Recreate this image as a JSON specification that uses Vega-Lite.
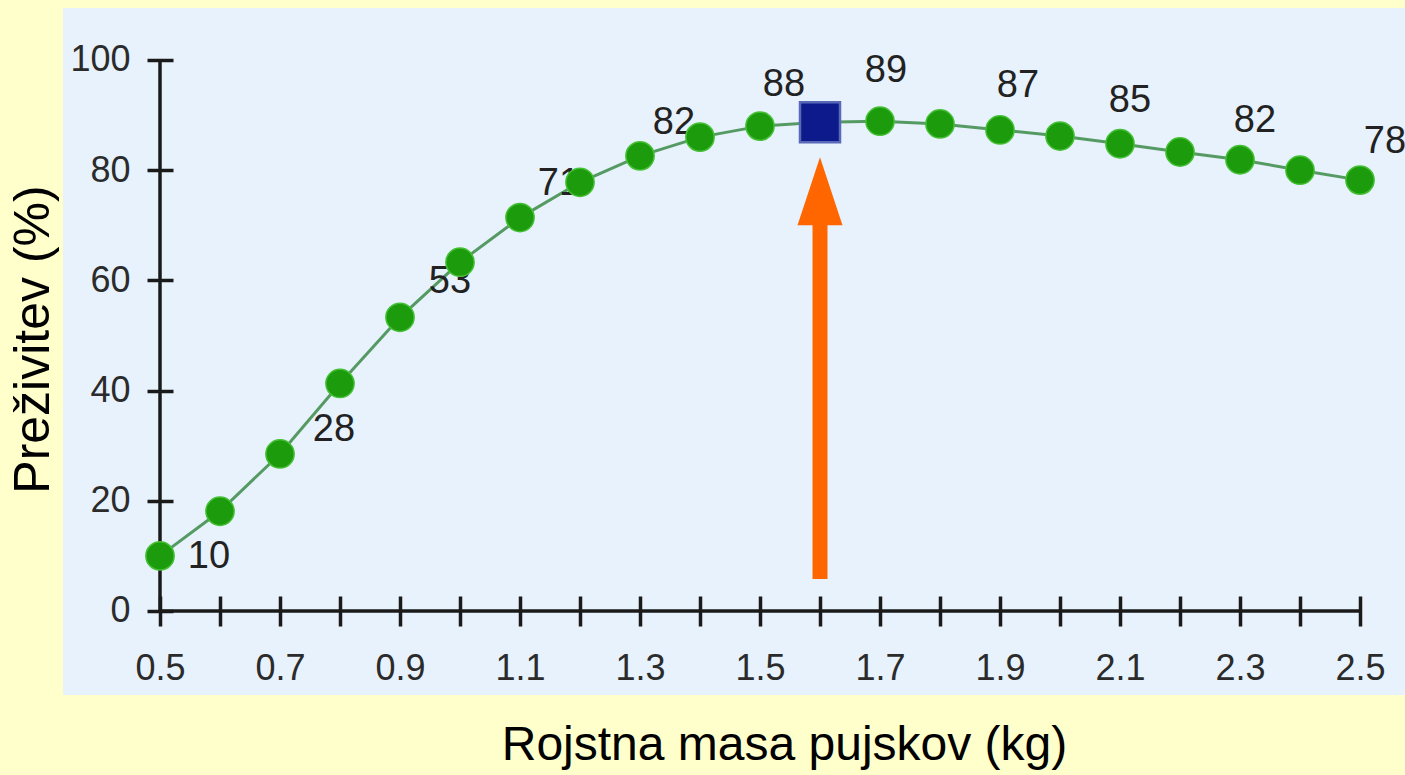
{
  "$schema": "https://vega.github.io/schema/vega-lite/v6.json",
  "width": 1342,
  "height": 687,
  "autosize": {"type": "none"},
  "padding": {"left": 63, "top": 8, "right": 0, "bottom": 80},
  "background": "#FFFFCC",
  "config": {
    "view": {"fill": "#E7F2FC", "stroke": null},
    "font": "Liberation Sans",
    "text": {"font": "Liberation Sans", "fontSize": 38, "fill": "#222222", "align": "center", "baseline": "middle"}
  },
  "data": {
    "values": [
      {"x": 0.5, "y": 10.0, "label": "10"},
      {"x": 0.6, "y": 18.1},
      {"x": 0.7, "y": 28.5, "label": "28"},
      {"x": 0.8, "y": 41.3},
      {"x": 0.9, "y": 53.3, "label": "53"},
      {"x": 1.0, "y": 63.3},
      {"x": 1.1, "y": 71.4, "label": "71"},
      {"x": 1.2, "y": 77.8},
      {"x": 1.3, "y": 82.6, "label": "82"},
      {"x": 1.4, "y": 86.0},
      {"x": 1.5, "y": 88.0, "label": "88"},
      {"x": 1.6, "y": 88.7},
      {"x": 1.7, "y": 88.9, "label": "89"},
      {"x": 1.8, "y": 88.4},
      {"x": 1.9, "y": 87.3, "label": "87"},
      {"x": 2.0, "y": 86.2},
      {"x": 2.1, "y": 84.8, "label": "85"},
      {"x": 2.2, "y": 83.3},
      {"x": 2.3, "y": 81.9, "label": "82"},
      {"x": 2.4, "y": 80.0},
      {"x": 2.5, "y": 78.2, "label": "78"}
    ]
  },
  "layer": [
    {
      "mark": {"type": "line", "color": "#559a63", "strokeWidth": 3},
      "encoding": {
        "x": {
          "field": "x",
          "type": "quantitative",
          "scale": {"domain": [0.33833, 2.575], "nice": false, "zero": false},
          "axis": {
            "title": "Rojstna masa pujskov (kg)",
            "values": [0.5, 0.6, 0.7, 0.8, 0.9, 1.0, 1.1, 1.2, 1.3, 1.4, 1.5, 1.6, 1.7, 1.8, 1.9, 2.0, 2.1, 2.2, 2.3, 2.4, 2.5],
            "labelExpr": "round(datum.value * 10) % 2 == 1 ? format(datum.value, '.1f') : ''",
            "domain": false,
            "grid": false,
            "offset": -99,
            "tickSize": 30,
            "tickWidth": 3.5,
            "tickColor": "#1a1a1a",
            "labelFont": "Liberation Sans",
            "labelFontSize": 36,
            "labelColor": "#2b2b2b",
            "labelPadding": 42,
            "labelBaseline": "middle",
            "labelFlush": false,
            "labelOverlap": false,
            "titleFont": "Liberation Sans",
            "titleFontSize": 48,
            "titleFontWeight": "normal",
            "titleColor": "#000000",
            "titleX": 721,
            "titleY": 149,
            "titleAlign": "center",
            "titleBaseline": "middle"
          }
        },
        "y": {
          "field": "y",
          "type": "quantitative",
          "scale": {"domain": [-15.245, 109.437], "nice": false, "zero": false},
          "axis": {
            "title": "Preživitev (%)",
            "values": [0, 20, 40, 60, 80, 100],
            "domain": false,
            "grid": false,
            "offset": -110,
            "tickSize": 26,
            "tickWidth": 3.5,
            "tickColor": "#1a1a1a",
            "labelFont": "Liberation Sans",
            "labelFontSize": 36,
            "labelColor": "#2b2b2b",
            "labelPadding": 17,
            "labelFlush": false,
            "labelOverlap": false,
            "titleFont": "Liberation Sans",
            "titleFontSize": 50,
            "titleFontWeight": "normal",
            "titleColor": "#000000",
            "titleX": -140,
            "titleY": 331,
            "titleAlign": "center",
            "titleBaseline": "middle"
          }
        }
      }
    },
    {
      "transform": [{"filter": "datum.x == 0.5"}],
      "mark": {"type": "rule", "color": "#1a1a1a", "strokeWidth": 3.5},
      "encoding": {
        "x": {"field": "x", "type": "quantitative"},
        "y": {"datum": 0, "type": "quantitative"},
        "y2": {"datum": 100}
      }
    },
    {
      "transform": [{"filter": "datum.x == 0.5"}],
      "mark": {"type": "rule", "color": "#1a1a1a", "strokeWidth": 3.5},
      "encoding": {
        "x": {"field": "x", "type": "quantitative"},
        "x2": {"datum": 2.5},
        "y": {"datum": 0, "type": "quantitative"}
      }
    },
    {"transform": [{"filter": "datum.x == 0.5"}], "mark": {"type": "text", "dx": 49, "dy": 1}, "encoding": {"x": {"field": "x", "type": "quantitative"}, "y": {"field": "y", "type": "quantitative"}, "text": {"field": "label"}}},
    {"transform": [{"filter": "datum.x == 0.7"}], "mark": {"type": "text", "dx": 54, "dy": -24}, "encoding": {"x": {"field": "x", "type": "quantitative"}, "y": {"field": "y", "type": "quantitative"}, "text": {"field": "label"}}},
    {"transform": [{"filter": "datum.x == 0.9"}], "mark": {"type": "text", "dx": 50, "dy": -35}, "encoding": {"x": {"field": "x", "type": "quantitative"}, "y": {"field": "y", "type": "quantitative"}, "text": {"field": "label"}}},
    {"transform": [{"filter": "datum.x == 1.1"}], "mark": {"type": "text", "dx": 39, "dy": -34}, "encoding": {"x": {"field": "x", "type": "quantitative"}, "y": {"field": "y", "type": "quantitative"}, "text": {"field": "label"}}},
    {"transform": [{"filter": "datum.x == 1.3"}], "mark": {"type": "text", "dx": 34, "dy": -33}, "encoding": {"x": {"field": "x", "type": "quantitative"}, "y": {"field": "y", "type": "quantitative"}, "text": {"field": "label"}}},
    {"transform": [{"filter": "datum.x == 1.5"}], "mark": {"type": "text", "dx": 24, "dy": -41}, "encoding": {"x": {"field": "x", "type": "quantitative"}, "y": {"field": "y", "type": "quantitative"}, "text": {"field": "label"}}},
    {"transform": [{"filter": "datum.x == 1.7"}], "mark": {"type": "text", "dx": 6, "dy": -50}, "encoding": {"x": {"field": "x", "type": "quantitative"}, "y": {"field": "y", "type": "quantitative"}, "text": {"field": "label"}}},
    {"transform": [{"filter": "datum.x == 1.9"}], "mark": {"type": "text", "dx": 18, "dy": -44}, "encoding": {"x": {"field": "x", "type": "quantitative"}, "y": {"field": "y", "type": "quantitative"}, "text": {"field": "label"}}},
    {"transform": [{"filter": "datum.x == 2.1"}], "mark": {"type": "text", "dx": 10, "dy": -43}, "encoding": {"x": {"field": "x", "type": "quantitative"}, "y": {"field": "y", "type": "quantitative"}, "text": {"field": "label"}}},
    {"transform": [{"filter": "datum.x == 2.3"}], "mark": {"type": "text", "dx": 15, "dy": -39}, "encoding": {"x": {"field": "x", "type": "quantitative"}, "y": {"field": "y", "type": "quantitative"}, "text": {"field": "label"}}},
    {"transform": [{"filter": "datum.x == 2.5"}], "mark": {"type": "text", "dx": 25, "dy": -38}, "encoding": {"x": {"field": "x", "type": "quantitative"}, "y": {"field": "y", "type": "quantitative"}, "text": {"field": "label"}}},
    {
      "transform": [{"filter": "datum.x != 1.6"}],
      "mark": {"type": "circle", "size": 800, "fill": "#1c9c0c", "stroke": "#45c035", "strokeWidth": 1.5, "opacity": 1},
      "encoding": {"x": {"field": "x", "type": "quantitative"}, "y": {"field": "y", "type": "quantitative"}}
    },
    {
      "transform": [{"filter": "datum.x == 1.6"}],
      "mark": {"type": "square", "size": 1600, "fill": "#0c1a8c", "stroke": "#5a68b8", "strokeWidth": 2.5, "opacity": 1},
      "encoding": {"x": {"field": "x", "type": "quantitative"}, "y": {"field": "y", "type": "quantitative"}}
    },
    {
      "transform": [{"filter": "datum.x == 1.6"}],
      "mark": {"type": "rule", "color": "#FF6600", "strokeWidth": 15, "strokeCap": "butt"},
      "encoding": {
        "x": {"field": "x", "type": "quantitative"},
        "y": {"datum": 5.8, "type": "quantitative"},
        "y2": {"datum": 71}
      }
    },
    {
      "transform": [{"filter": "datum.x == 1.6"}],
      "mark": {"type": "point", "shape": "M0,-1L0.662,1L-0.662,1Z", "size": 4624, "filled": true, "fill": "#FF6600", "strokeWidth": 0, "opacity": 1},
      "encoding": {
        "x": {"field": "x", "type": "quantitative"},
        "y": {"datum": 76.2, "type": "quantitative"}
      }
    }
  ]
}
